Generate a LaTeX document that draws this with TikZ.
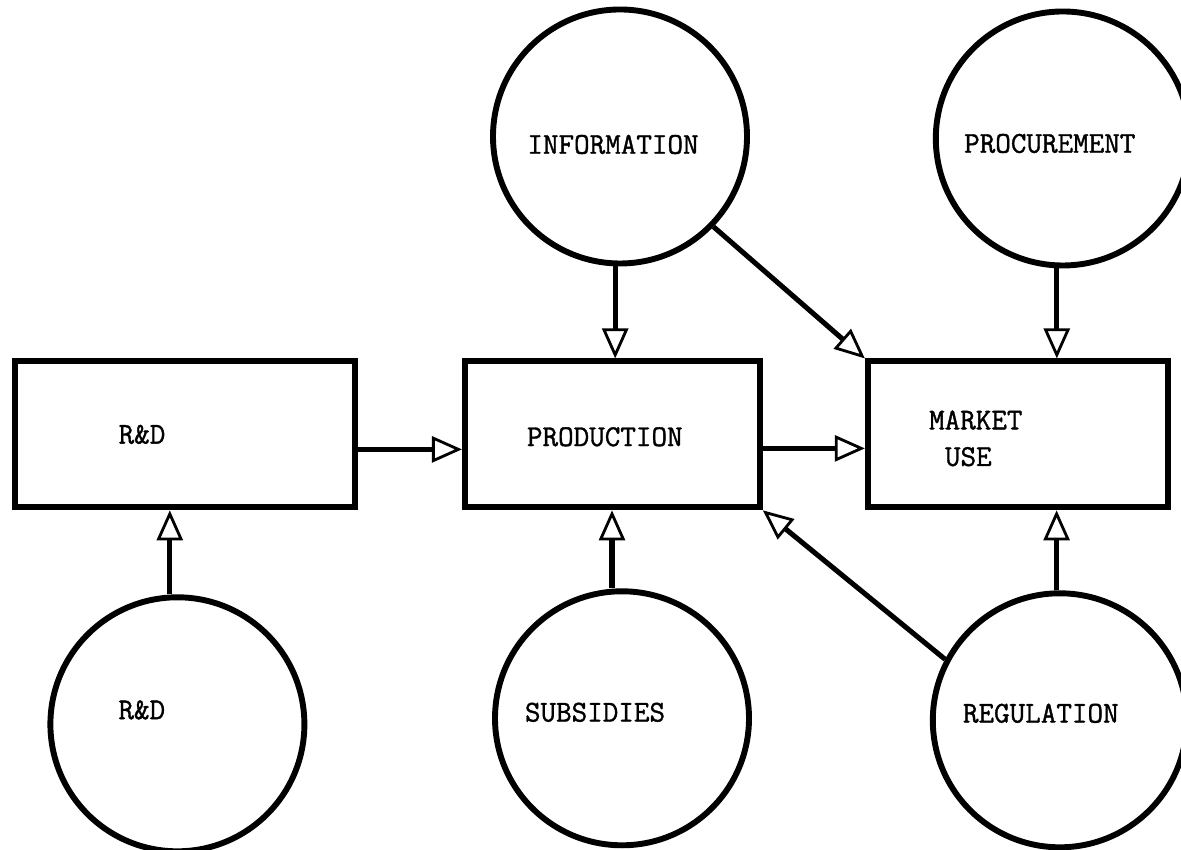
\documentclass[tikz,border=0pt]{standalone}
\usepackage{fontspec}
\newfontfamily\typewriter{Latin Modern Mono}[FakeBold=1.2]
\usetikzlibrary{
	arrows.meta,
	positioning
}
\tikzset{
	>={Triangle[open, length=0.75cm, width=0.65cm, line width=2pt]},
	graphedge/.style={line width=3.6pt, ->},
	graphnode/.style={circle, draw, line width=4.2pt, minimum size=6.35cm, inner sep=0pt},
	blocknode/.style={draw, line width=4.2pt, minimum height=3.65cm, inner sep=0pt},
	labeltext/.style={align=center, inner sep=0pt}
}

\begin{document}
\begin{tikzpicture}[font=\typewriter\fontsize{21.5}{26}\selectfont]
	\useasboundingbox (0,0) rectangle (29.525,21.25);

	\node[blocknode, minimum width=8.5cm, label={[labeltext, xshift=-1.075cm]center:R\&D}] (rdbox) at (4.625,10.39) {};
	\node[blocknode, minimum width=7.375cm, right = 2.6cm of rdbox, label={[labeltext, xshift=-0.19cm, yshift=-0.06cm]center:PRODUCTION}] (prodbox) {};
	\node[blocknode, minimum width=7.5cm, right = 2.55cm of prodbox, label={[labeltext, align=left, xshift=-1.05cm, yshift=-0.1cm]center:MARKET\\\hspace*{0.525em}USE}] (marketbox) {};

	\node[graphnode, above = 2.3cm of prodbox, xshift=0.19cm, label={[labeltext, xshift=-0.175cm, yshift=-0.2cm]center:INFORMATION}] (info) {};
	\node[graphnode, above = 2.25cm of marketbox, xshift=1.125cm, label={[labeltext, xshift=-0.325cm, yshift=-0.125cm]center:PROCUREMENT}] (proc) {};
	\node[graphnode, below = 2.1cm of rdbox, xshift=-0.19cm, label={[labeltext, xshift=-0.89cm, yshift=0.36cm]center:R\&D}] (rdcirc) {};
	\node[graphnode, below = 1.95cm of prodbox, xshift=0.24cm, label={[labeltext, xshift=-0.675cm, yshift=0.15cm]center:SUBSIDIES}] (subs) {};
	\node[graphnode, below = 2.0cm of marketbox, xshift=1.05cm, label={[labeltext, xshift=-0.475cm, yshift=0.175cm]center:REGULATION}] (reg) {};

	\draw[graphedge] ([xshift=-0.19cm]rdcirc.north) -- ([xshift=-0.19cm]rdcirc.north |- rdbox.south);
	\draw[graphedge] ([yshift=-0.375cm]rdbox.east) -- ([yshift=-0.375cm]prodbox.west);
	\draw[graphedge] ([yshift=-0.35cm]prodbox.east) -- ([yshift=-0.35cm]marketbox.west);
	\draw[graphedge] ([xshift=-0.12cm]info.south) -- ([xshift=-0.12cm]info.south |- prodbox.north);
	\draw[graphedge] (info.-44) -- (marketbox.north west);
	\draw[graphedge] ([xshift=-0.15cm]proc.south) -- ([xshift=-0.15cm]proc.south |- marketbox.north);
	\draw[graphedge] ([xshift=-0.25cm]subs.north) -- ([xshift=-0.25cm]subs.north |- prodbox.south);
	\draw[graphedge] (reg.152) -- (prodbox.south east);
	\draw[graphedge] ([xshift=-0.08cm]reg.north) -- ([xshift=-0.08cm]reg.north |- marketbox.south);
\end{tikzpicture}
\end{document}
